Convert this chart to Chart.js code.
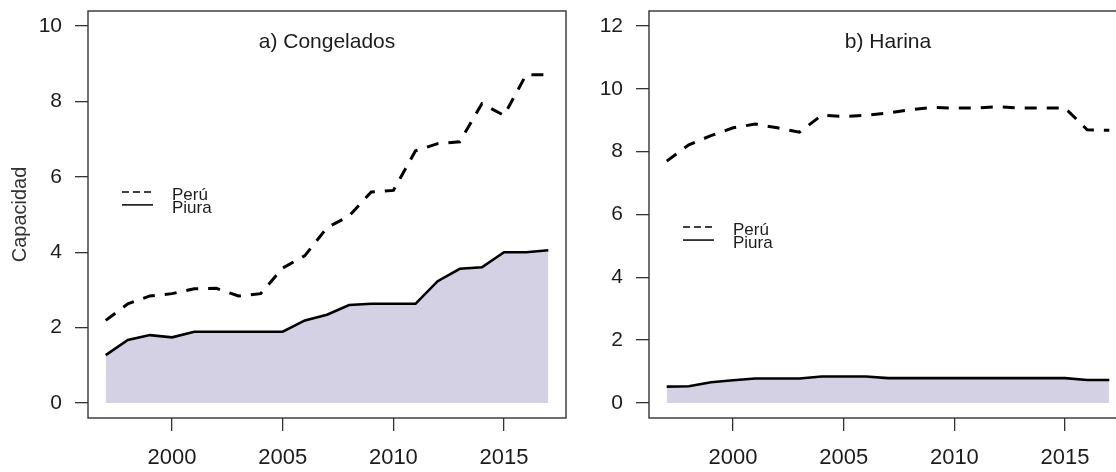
<!DOCTYPE html>
<html>
<head>
<meta charset="utf-8">
<script src="https://cdn.jsdelivr.net/npm/chart.js@4"></script>
<style>
  html, body { margin: 0; padding: 0; background: #fff; overflow: hidden; width: 1116px; height: 472px; }
  .pane { position: absolute; top: 0; width: 600px; height: 472px; }
  #p1 { left: 0; }
  #p2 { left: 560px; }
</style>
</head>
<body>
<div class="pane" id="p1"><canvas id="c1"></canvas></div>
<div class="pane" id="p2"><canvas id="c2"></canvas></div>
<script>
// ---- data ----
const years = [1997,1998,1999,2000,2001,2002,2003,2004,2005,2006,2007,2008,2009,2010,2011,2012,2013,2014,2015,2016,2017];
const congPeru  = [2.19,2.63,2.84,2.90,3.03,3.04,2.84,2.90,3.58,3.91,4.65,4.96,5.60,5.64,6.69,6.88,6.93,7.94,7.63,8.71,8.71];
const congPiura = [1.27,1.67,1.80,1.74,1.89,1.89,1.89,1.89,1.89,2.19,2.34,2.60,2.63,2.63,2.63,3.23,3.56,3.60,4.00,4.00,4.05];
const harPeru   = [7.70,8.22,8.51,8.76,8.88,8.76,8.62,9.16,9.12,9.16,9.23,9.34,9.41,9.39,9.39,9.43,9.39,9.39,9.39,8.70,8.68];
const harPiura  = [0.52,0.53,0.66,0.72,0.78,0.78,0.78,0.84,0.84,0.84,0.79,0.79,0.79,0.79,0.79,0.79,0.79,0.79,0.79,0.73,0.73];
const xTicks  = [2000,2005,2010,2015];
const yTicksA = [0,2,4,6,8,10];
const yTicksB = [0,2,4,6,8,10,12];
const seriesNames = ['Perú','Piura'];
const titles = ['a) Congelados','b) Harina'];
const yLabel = 'Capacidad';

// ---- styling ----
const FONT = '"Liberation Sans", Arial, sans-serif';
const INK = '#1c1c1c';
const FILL = 'rgb(212,209,229)';

Chart.defaults.font.family = FONT;
Chart.defaults.color = INK;

const boxPlugin = {
  id: 'rbox',
  afterDraw(chart) {
    const {ctx, chartArea: a} = chart;
    ctx.save();
    ctx.strokeStyle = '#333';
    ctx.lineWidth = 1.4;
    ctx.strokeRect(a.left, a.top, a.right - a.left, a.bottom - a.top);
    // panel title
    const t = chart.options.plugins.rbox;
    ctx.fillStyle = INK;
    ctx.font = t.titleSize + 'px ' + FONT;
    ctx.textAlign = 'center';
    ctx.textBaseline = 'middle';
    ctx.fillText(t.title, (a.left + a.right) / 2, a.top + t.titleOffset);
    // legend
    const ys = chart.scales.y;
    const y0 = ys.getPixelForValue(t.legendValue);
    const x0 = a.left + 34, x1 = a.left + 65, xt = a.left + 84;
    chart.data.datasets.forEach((ds, i) => {
      const yy = y0 + i * 13;
      ctx.beginPath();
      ctx.setLineDash(ds.borderDash ? [7, 4] : []);
      ctx.lineWidth = 1.5;
      ctx.strokeStyle = '#000';
      ctx.moveTo(x0, yy); ctx.lineTo(x1, yy); ctx.stroke();
      ctx.setLineDash([]);
      ctx.font = '17px ' + FONT;
      ctx.textAlign = 'left';
      ctx.fillText(ds.label, xt, yy + 3);
    });
    ctx.restore();
  }
};

function makeChart(id, peru, piura, yTicks, yMax, opts) {
  const pad = (yMax) * 0.04;
  return new Chart(document.getElementById(id), {
    type: 'line',
    data: {
      labels: years,
      datasets: [
        { label: seriesNames[0], data: years.map((x, i) => ({x, y: peru[i]})),
          borderColor: '#000', borderWidth: 3, borderDash: [12, 10], pointRadius: 0, tension: 0, fill: false },
        { label: seriesNames[1], data: years.map((x, i) => ({x, y: piura[i]})),
          borderColor: '#000', borderWidth: 2.6, pointRadius: 0, tension: 0,
          fill: 'origin', backgroundColor: FILL }
      ]
    },
    plugins: [boxPlugin],
    options: {
      responsive: true, maintainAspectRatio: false, animation: false,
      layout: { padding: { left: 0, right: opts.padRight, top: 11, bottom: 0 } },
      plugins: {
        legend: { display: false }, tooltip: { enabled: false },
        rbox: { title: opts.title, titleSize: 21, titleOffset: 31, legendValue: 5.6 }
      },
      scales: {
        x: {
          type: 'linear', min: 1996.2, max: 2017.8,
          afterBuildTicks: s => { s.ticks = xTicks.map(v => ({value: v})); },
          afterFit: s => { s.height = 54; s.paddingLeft = 0; s.paddingRight = 0; },
          grid: { drawOnChartArea: false, drawTicks: true, tickLength: 13, color: '#333', lineWidth: 1.3 },
          border: { display: false },
          ticks: { font: { size: 22 }, color: INK, padding: 14, maxRotation: 0, callback: v => String(v) }
        },
        y: {
          type: 'linear', min: -pad, max: yMax + pad,
          afterBuildTicks: s => { s.ticks = yTicks.map(v => ({value: v})); },
          afterFit: s => { s.width = opts.yWidth; s.paddingTop = 0; s.paddingBottom = 0; },
          grid: { drawOnChartArea: false, drawTicks: true, tickLength: 13, color: '#333', lineWidth: 1.3 },
          border: { display: false },
          ticks: { font: { size: 21 }, color: INK, padding: 13, callback: v => String(v) },
          title: { display: opts.showY, text: yLabel, font: { size: 20 }, color: '#333', padding: { top: 8, bottom: 0 } }
        }
      }
    }
  });
}

makeChart('c1', congPeru, congPiura, yTicksA, 10, { padRight: 34, yWidth: 88, title: titles[0], showY: true });
makeChart('c2', harPeru, harPiura, yTicksB, 12, { padRight: 33, yWidth: 89, title: titles[1], showY: false });
</script>
</body>
</html>
